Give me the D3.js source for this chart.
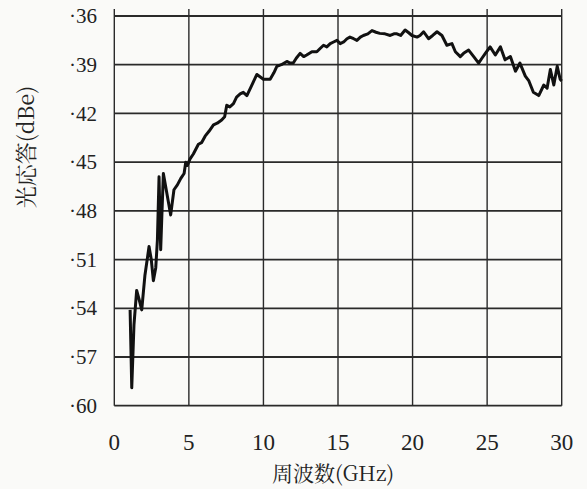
<!DOCTYPE html>
<html><head><meta charset="utf-8">
<script src="https://cdn.jsdelivr.net/npm/d3@7"></script>
<style>body{margin:0;background:#fafaf8}svg{display:block}</style>
</head><body>
<svg id="c" width="587" height="489"></svg>
<script>
const xTicks = [0, 5, 10, 15, 20, 25, 30];
const yTicks = [-36, -39, -42, -45, -48, -51, -54, -57, -60];
const freq = [1.06,1.17,1.32,1.5,1.65,1.84,2.05,2.33,2.48,2.62,2.78,2.89,3.0,3.11,3.2,3.29,3.5,3.78,4.0,4.23,4.46,4.68,4.79,4.9,5.08,5.3,5.64,5.85,6.09,6.35,6.65,6.9,7.2,7.4,7.54,7.75,7.99,8.2,8.44,8.65,8.89,9.2,9.56,10.0,10.45,10.7,10.9,11.2,11.57,11.79,12.0,12.2,12.46,12.7,12.9,13.25,13.58,13.8,14.03,14.25,14.48,14.7,14.93,15.15,15.38,15.6,15.8,16.05,16.27,16.5,16.7,17.0,17.28,17.55,17.8,18.15,18.5,18.75,18.95,19.2,19.5,19.7,19.96,20.3,20.5,20.74,21.07,21.35,21.64,21.97,22.3,22.64,22.87,23.2,23.42,23.76,24.1,24.43,24.65,24.88,25.2,25.55,25.89,26.2,26.56,26.9,27.2,27.56,27.8,28.1,28.46,28.8,29.02,29.24,29.47,29.7,29.9,30.0];
const resp = [-54.1,-58.9,-55.0,-52.9,-53.4,-54.1,-52.0,-50.2,-51.0,-52.3,-51.5,-49.8,-45.9,-50.4,-48.0,-45.7,-46.8,-48.25,-46.7,-46.4,-46.0,-45.7,-45.0,-45.2,-44.8,-44.5,-43.9,-43.8,-43.4,-43.1,-42.7,-42.6,-42.4,-42.2,-41.5,-41.6,-41.4,-41.0,-40.8,-40.7,-40.9,-40.3,-39.6,-39.9,-39.9,-39.5,-39.1,-39.0,-38.8,-38.9,-38.9,-38.6,-38.3,-38.5,-38.4,-38.2,-38.2,-38.0,-37.8,-37.9,-37.7,-37.6,-37.5,-37.7,-37.6,-37.4,-37.3,-37.4,-37.5,-37.3,-37.2,-37.1,-36.9,-37.0,-37.07,-37.1,-37.2,-37.1,-37.1,-37.2,-36.86,-37.0,-37.2,-37.3,-37.2,-36.97,-37.4,-37.2,-36.97,-37.2,-37.8,-37.7,-38.2,-38.5,-38.3,-38.1,-38.5,-38.9,-38.6,-38.3,-37.9,-38.4,-37.9,-38.7,-38.5,-39.4,-38.9,-39.7,-40.0,-40.7,-40.9,-40.25,-40.45,-39.3,-40.25,-39.1,-39.9,-40.0];

const L = 114.3, R = 561.7, T = 16, B = 405.7;
const SERIF = "'Liberation Serif', serif";
const CJK = "'Noto Serif CJK JP', 'Noto Sans CJK JP', serif";
const svg = d3.select("#c");
const x = d3.scaleLinear().domain([0, 30]).range([L, R]);
const y = d3.scaleLinear().domain([-60, -36]).range([B, T]);

svg.append("g").selectAll("line").data(xTicks).join("line")
  .attr("x1", d => x(d)).attr("x2", d => x(d))
  .attr("y1", T - 7).attr("y2", B)
  .attr("stroke", "#2a2a2a").attr("stroke-width", 1.4);
svg.append("g").selectAll("line").data(yTicks).join("line")
  .attr("x1", L).attr("x2", R)
  .attr("y1", d => y(d)).attr("y2", d => y(d))
  .attr("stroke", "#2a2a2a").attr("stroke-width", 1.8);

svg.append("g").selectAll("text").data(yTicks).join("text")
  .attr("x", 97).attr("y", d => y(d)).attr("dy", "0.34em")
  .attr("text-anchor", "end")
  .style("font-family", SERIF).attr("font-size", 21).attr("fill", "#222")
  .text(d => "·" + Math.abs(d));
svg.append("g").selectAll("text").data(xTicks).join("text")
  .attr("x", d => x(d)).attr("y", 450)
  .attr("text-anchor", "middle")
  .style("font-family", SERIF).attr("font-size", 23).attr("fill", "#222")
  .text(d => d);

svg.append("text").attr("x", 333).attr("y", 481).attr("text-anchor", "middle")
  .style("font-family", CJK).attr("font-size", 21).attr("fill", "#222")
  .text("周波数(GHz)");
svg.append("text").attr("transform", "translate(34,147) rotate(-90)").attr("text-anchor", "middle")
  .style("font-family", CJK).attr("font-size", 22).attr("fill", "#222")
  .text("光応答(dBe)");

const data = freq.map((f, i) => [f, resp[i]]);
svg.append("path").datum(data)
  .attr("fill", "none").attr("stroke", "#111").attr("stroke-width", 3)
  .attr("stroke-linejoin", "round")
  .attr("d", d3.line().x(d => x(d[0])).y(d => y(d[1])));
</script>
</body></html>
